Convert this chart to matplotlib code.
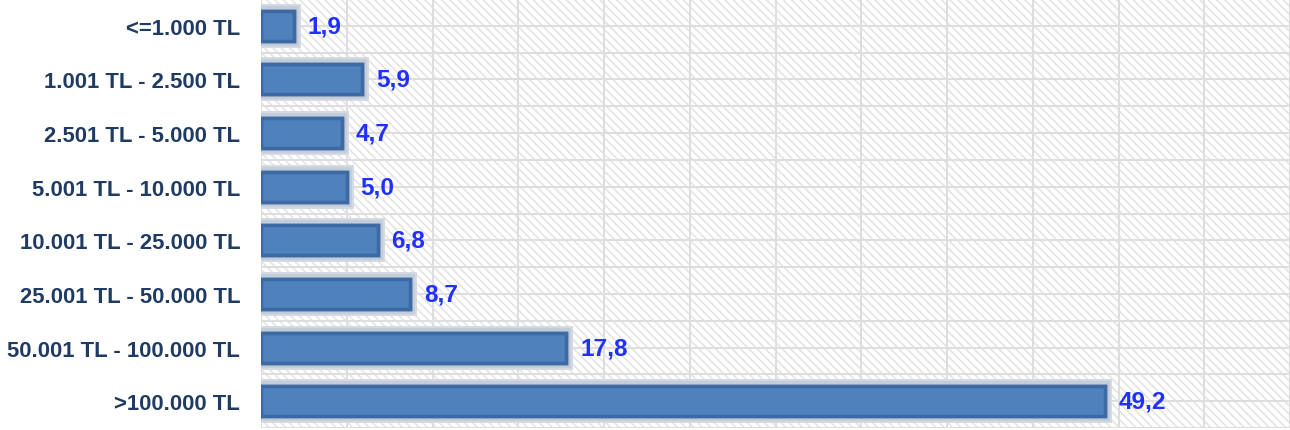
import matplotlib
matplotlib.use('Agg')
import matplotlib.pyplot as plt
import matplotlib.patheffects as pe
from matplotlib.patches import Rectangle
import numpy as np

plt.rcParams['font.family'] = ['Liberation Sans', 'DejaVu Sans']
plt.rcParams['hatch.linewidth'] = 1.2
plt.rcParams['hatch.color'] = '#e4e4e4'

# gelir dilimleri ve payları (%)
categories = ['<=1.000 TL', '1.001 TL - 2.500 TL', '2.501 TL - 5.000 TL',
              '5.001 TL - 10.000 TL', '10.001 TL - 25.000 TL',
              '25.001 TL - 50.000 TL', '50.001 TL - 100.000 TL', '>100.000 TL']
values = [1.9, 5.9, 4.7, 5.0, 6.8, 8.7, 17.8, 49.2]
value_labels = ['1,9', '5,9', '4,7', '5,0', '6,8', '8,7', '17,8', '49,2']

fig = plt.figure(figsize=(12.9, 4.31), dpi=100)
ax = fig.add_axes([261 / 1290, 2 / 431, 1 - 261 / 1290, 429 / 431])

n = len(categories)
y = np.arange(n)

# çizgili arka plan
ax.add_patch(Rectangle((0, 0), 1, 1, transform=ax.transAxes, facecolor='white',
                       hatch='\\\\\\\\', edgecolor='#e4e4e4', linewidth=0, zorder=0))

for xv in np.arange(0, 61, 5):
    ax.axvline(xv, color='#dedede', lw=1.4, zorder=1)
for yv in np.arange(-0.5, n, 0.5):
    ax.axhline(yv, color='#dedede', lw=1.4, zorder=1)

bars = ax.barh(y, values, height=0.56, color='#4f81bd', edgecolor='#3c6aa5',
               linewidth=2.5, zorder=3)
for b in bars:
    b.set_path_effects([pe.withStroke(linewidth=10, foreground='#d3d9e2'),
                        pe.withStroke(linewidth=7, foreground='#c3ccd9'), pe.Normal()])

for yi, v, lab in zip(y, values, value_labels):
    ax.annotate(lab, (v, yi), xytext=(14, 0), textcoords='offset pixels',
                ha='left', va='center', fontsize=17.6, fontweight='bold',
                color='#1f30ff', zorder=4)

ax.set_xlim(0, 60)
ax.set_ylim(n - 0.5, -0.5)
ax.set_yticks(y)
ax.set_yticklabels(categories, fontsize=15.9, fontweight='bold', color='#1f3b63')
ax.tick_params(axis='y', length=0, pad=15)
ax.set_xticks([])
for s in ax.spines.values():
    s.set_visible(False)

fig.savefig('out.png', dpi=100)
